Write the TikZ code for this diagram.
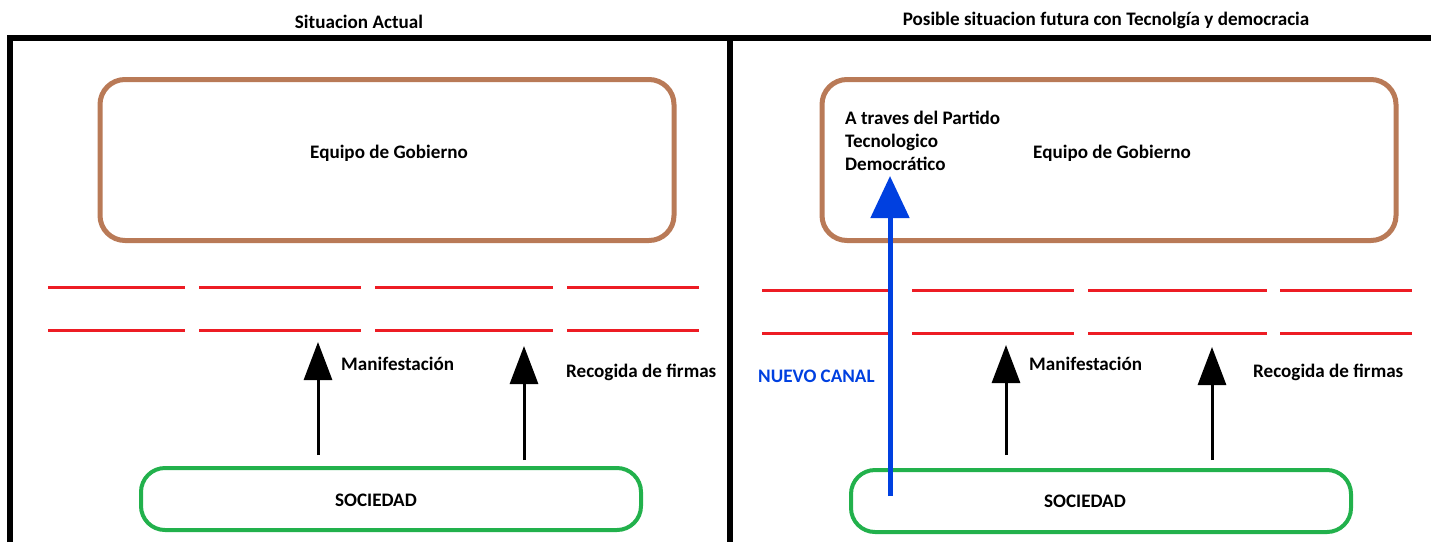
\documentclass[tikz,border=0pt]{standalone}
\usepackage{fontspec}
\setmainfont{Carlito}
\usetikzlibrary{arrows.meta}

\definecolor{brownbox}{RGB}{185,122,87}
\definecolor{redline}{RGB}{237,28,36}
\definecolor{greenbox}{RGB}{34,177,76}
\definecolor{bluecanal}{RGB}{0,64,224}

\begin{document}
\begin{tikzpicture}[x = 1pt, y = -1pt, > = {Triangle[width = 28pt, length = 38pt]},
	font = \fontsize{19.1}{23}\selectfont\bfseries,
	texto/.style = {inner sep = 0pt},
	gobierno/.style = {draw = brownbox, line width = 5pt, rounded corners = 25pt, minimum width = 574pt, minimum height = 161pt},
	sociedad/.style = {draw = greenbox, line width = 4pt, rounded corners = 24pt, minimum width = 500pt, minimum height = 62pt},
	barrera/.style = {draw = redline, line width = 3pt},
	flecha/.style = {->, line width = 3pt},
	canal/.style = {-{Triangle[width = 38pt, length = 42pt]}, draw = bluecanal, line width = 5pt}]

	\useasboundingbox (0, 0) rectangle (1431, 542);

	% Frame and titles

	\draw [line width = 6pt] (10, 542) -- (10, 38) -- (1431, 38);
	\draw [line width = 6pt] (730, 38) -- (730, 542);

	\node [texto] (tituloL) at (359, 22) {Situacion Actual};
	\node [texto] (tituloR) at (1106, 20) {Posible situacion futura con Tecnolgía y democracia};

	% Situacion actual

	\node [gobierno] (gobL) at (387, 160) {};
	\node [texto] (gobtxtL) at (389, 153) {Equipo de Gobierno};

	\foreach \a/\b in {48/185, 199/361, 375/553, 567/699}
	{
		\draw [barrera] (\a, 287) -- (\b, 287);
		\draw [barrera] (\a, 330) -- (\b, 330);
	}

	\node [sociedad] (socL) at (391, 499) {};
	\node [texto] (soctxtL) at (376, 500) {SOCIEDAD};

	\coordinate (manifL) at (318, 455);
	\coordinate (manifLtop) at (318, 342);
	\coordinate (firmasL) at (524, 460);
	\coordinate (firmasLtop) at (524, 346);

	\draw [flecha] (manifL) -- (manifLtop);
	\draw [flecha] (firmasL) -- (firmasLtop);

	\node [texto, anchor = west] (manifLtxt) at (341, 364) {Manifestación};
	\node [texto, anchor = west] (firmasLtxt) at (566, 372) {Recogida de firmas};

	% Situacion futura

	\node [gobierno] (gobR) at (1109, 160) {};
	\node [texto] (gobtxtR) at (1112, 153) {Equipo de Gobierno};
	\node [texto, anchor = west, align = left] (partido) at (845, 141) {A traves del Partido\\Tecnologico\\Democrático};

	\foreach \a/\b in {762/893, 912/1074, 1088/1267, 1280/1412}
	{
		\draw [barrera] (\a, 290) -- (\b, 290);
		\draw [barrera] (\a, 333) -- (\b, 333);
	}

	\node [sociedad] (socR) at (1101, 501) {};
	\node [texto] (soctxtR) at (1085, 501) {SOCIEDAD};

	\coordinate (canal) at (890, 496);
	\coordinate (canaltop) at (890, 176);
	\draw [canal] (canal) -- (canaltop);
	\node [texto, anchor = west, text = bluecanal] (canaltxt) at (758, 376) {NUEVO CANAL};

	\coordinate (manifR) at (1006, 455);
	\coordinate (manifRtop) at (1006, 345);
	\coordinate (firmasR) at (1212, 460);
	\coordinate (firmasRtop) at (1212, 347);

	\draw [flecha] (manifR) -- (manifRtop);
	\draw [flecha] (firmasR) -- (firmasRtop);

	\node [texto, anchor = west] (manifRtxt) at (1029, 364) {Manifestación};
	\node [texto, anchor = west] (firmasRtxt) at (1253, 372) {Recogida de firmas};

\end{tikzpicture}
\end{document}
